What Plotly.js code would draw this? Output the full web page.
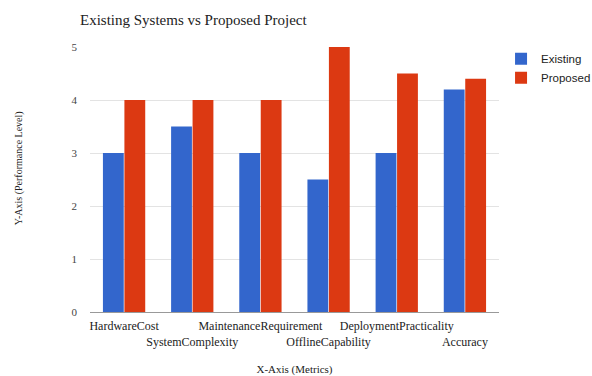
<!DOCTYPE html>
<html>
<head>
<meta charset="utf-8">
<script src="https://cdn.plot.ly/plotly-3.0.1.min.js"></script>
<style>html,body{margin:0;padding:0;background:#fff;}#chart{width:592px;height:376px;}</style>
</head>
<body>
<div id="chart"></div>
<script>
const categories = ["HardwareCost", "SystemComplexity", "MaintenanceRequirement", "OfflineCapability", "DeploymentPracticality", "Accuracy"];
const existingValues = [3, 3.5, 3, 2.5, 3, 4.2];
const proposedValues = [4, 4, 4, 5, 4.5, 4.4];
const yTicks = [0, 1, 2, 3, 4, 5];

const staggered = categories.map((c, i) => (i % 2 === 1 ? "<br>" + c : c));

const data = [
  {type: "bar", name: "Existing", x: categories, y: existingValues, marker: {color: "#3366cc"}, hoverinfo: "none"},
  {type: "bar", name: "Proposed", x: categories, y: proposedValues, marker: {color: "#dc3912"}, hoverinfo: "none"}
];

const pad = "&nbsp;".repeat(9);

const layout = {
  width: 592, height: 376,
  margin: {l: 90, r: 93, t: 47, b: 64, autoexpand: false},
  paper_bgcolor: "#fff", plot_bgcolor: "#fff",
  barmode: "group", bargap: 0.37, bargroupgap: 0.03,
  title: {text: "Existing Systems vs Proposed Project", x: 80/592, xanchor: "left", y: 1 - 20/376, yanchor: "middle",
          font: {family: "Liberation Serif, Times New Roman, serif", size: 15, color: "#222"}},
  xaxis: {
    type: "category", tickvals: categories, ticktext: staggered, tickangle: 0, automargin: false,
    tickfont: {family: "Liberation Serif, serif", size: 12, color: "#222"},
    showgrid: false, showline: true, linecolor: "#999", linewidth: 1, ticks: "",
    ticklabelstandoff: 3,
    title: {text: "X-Axis (Metrics)", standoff: 24, font: {family: "Liberation Serif, serif", size: 11, color: "#222"}},
    fixedrange: true
  },
  yaxis: {
    range: [0, 5], tickvals: yTicks, automargin: false,
    tickfont: {family: "Liberation Serif, serif", size: 11, color: "#444"},
    showgrid: true, gridcolor: "#e3e3e3", zeroline: false, showline: false, ticks: "",
    ticklabelstandoff: 12,
    title: {text: pad + "Y-Axis (Performance Level)", standoff: 47, font: {family: "Liberation Serif, serif", size: 10, color: "#222"}},
    fixedrange: true
  },
  legend: {x: 1.005, xanchor: "left", y: 1.01, yanchor: "top", font: {family: "Liberation Sans, Arial, sans-serif", size: 11.5, color: "#222"},
           bgcolor: "rgba(0,0,0,0)", tracegroupgap: 2},
  showlegend: true
};

Plotly.newPlot("chart", data, layout, {displayModeBar: false, staticPlot: true});
</script>
</body>
</html>
